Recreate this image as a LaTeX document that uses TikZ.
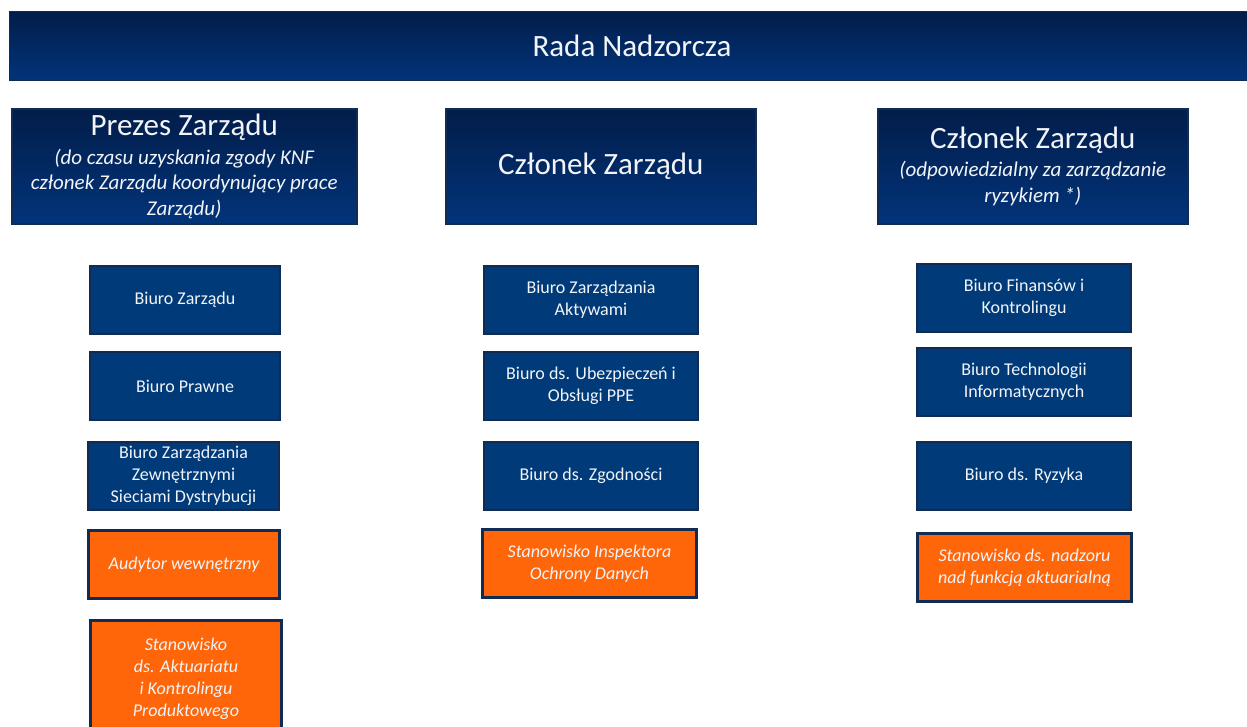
\documentclass[tikz,border=0pt]{standalone}
\usepackage{fontspec}
\setmainfont{Carlito}
\usepackage{tikz}
\usetikzlibrary{positioning}
\definecolor{navytop}{HTML}{021D4A}
\definecolor{navybot}{HTML}{02347A}
\definecolor{officeblue}{HTML}{003A78}
\definecolor{edgeblue}{HTML}{112B52}
\definecolor{postorange}{HTML}{FF660A}
\definecolor{lighttext}{HTML}{F2F4F8}
\newcommand{\headline}{\fontsize{31}{36}\selectfont\upshape}
\newcommand{\subline}{\fontsize{21}{25.5}\selectfont\itshape}
\tikzset{
banner/.style = {draw=edgeblue, line width=1pt, top color=navytop, bottom color=navybot, anchor=north west, inner sep=0pt, text=lighttext, font=\headline},
head/.style = {draw=edgeblue, line width=1.5pt, top color=navytop, bottom color=navybot, anchor=north west, inner sep=0pt, text=lighttext, align=center, minimum height=115, font=\subline},
office/.style = {draw=edgeblue, line width=2pt, fill=officeblue, anchor=north west, inner sep=0pt, text=lighttext, align=center, minimum height=68, font=\fontsize{18}{22}\selectfont},
post/.style = {office, fill=postorange, line width=3pt, font=\fontsize{18}{22}\selectfont\itshape},
}

\begin{document}
\begin{tikzpicture}[x=1pt, y=-1pt]
      \clip (0,0) rectangle (1247,726);
      \fill[white] (0,0) rectangle (1247,726);
      % top of the chart
      \node [banner, minimum width=1245, minimum height=69] (rada) at (9,11) {Rada Nadzorcza};
      % board members
      \node [head, minimum width=345] (prezes) at (11,108)
         {{\headline Prezes Zarządu}\\[3pt] (do czasu uzyskania zgody KNF\\ członek Zarządu koordynujący prace\\ Zarządu)};
      \node [head, minimum width=310] (czlonek) at (445,108) {\headline Członek Zarządu};
      \node [head, minimum width=310] (ryzyko) at (877,108)
         {{\headline Członek Zarządu}\\[3pt] (odpowiedzialny za zarządzanie\\ ryzykiem *)};
      % left column
      \node [office, minimum width=190] (bzarzadu) at (89,265) {Biuro Zarządu};
      \node [office, minimum width=190] (bprawne) at (89,351) {Biuro Prawne};
      \node [office, minimum width=191] (bsieci) at (87,441) {Biuro Zarządzania\\Zewnętrznymi\\Sieciami Dystrybucji};
      \node [post, minimum width=191] (audytor) at (87,529) {Audytor wewnętrzny};
      \node [post, minimum width=191, minimum height=120] (aktuariat) at (89,619) {\\[-12pt]Stanowisko\\ds. Aktuariatu\\i Kontrolingu\\Produktowego};
      % middle column
      \node [office, minimum width=214] (baktywa) at (483,265) {Biuro Zarządzania\\Aktywami};
      \node [office, minimum width=214] (bppe) at (483,351) {Biuro ds. Ubezpieczeń i\\Obsługi PPE};
      \node [office, minimum width=214] (bzgodnosc) at (483,441) {Biuro ds. Zgodności};
      \node [post, minimum width=214] (inspektor) at (481,528) {Stanowisko Inspektora\\Ochrony Danych};
      % right column
      \node [office, minimum width=214] (bfinanse) at (916,263) {Biuro Finansów i\\Kontrolingu};
      \node [office, minimum width=214] (bit) at (916,347) {Biuro Technologii\\Informatycznych};
      \node [office, minimum width=214] (bryzyko) at (916,441) {Biuro ds. Ryzyka};
      \node [post, minimum width=214] (nadzor) at (916,532) {Stanowisko ds. nadzoru\\nad funkcją aktuarialną};
\end{tikzpicture}
\end{document}
